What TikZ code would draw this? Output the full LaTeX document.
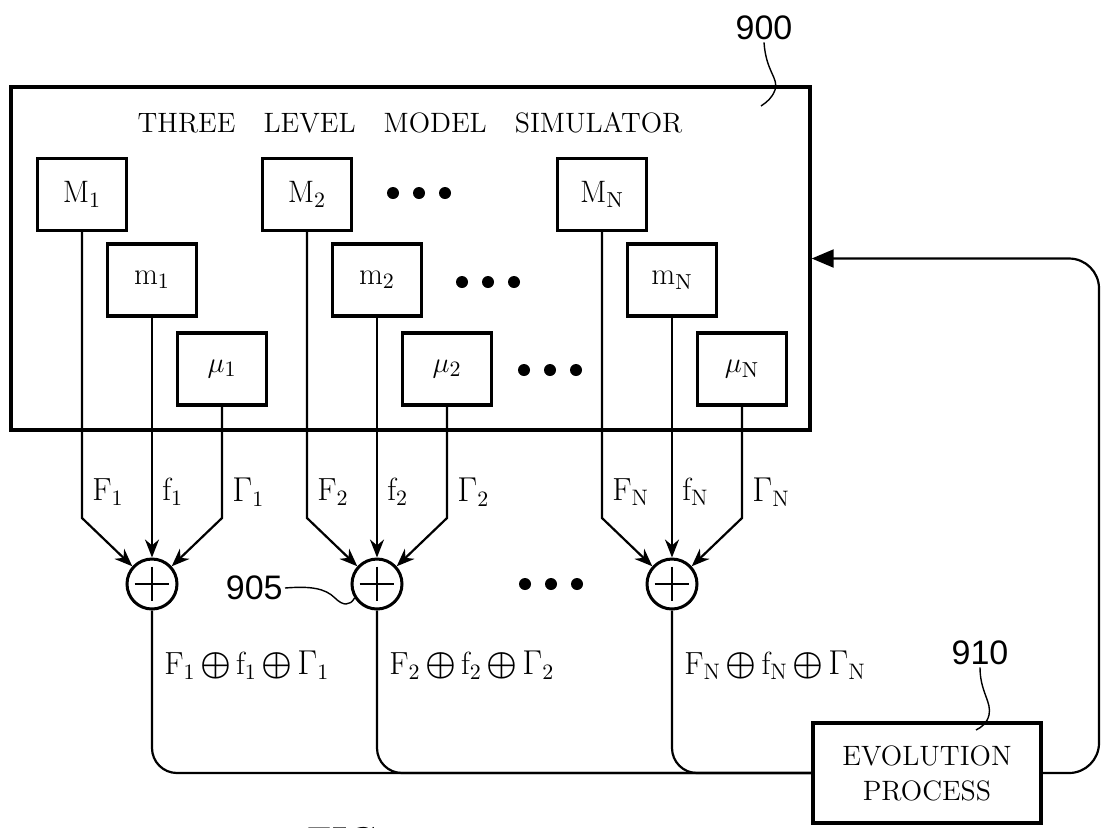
\documentclass[tikz,border=0pt]{standalone}
\usepackage{amsmath}
\usepackage{fontspec}
\setsansfont{Liberation Sans}
\usetikzlibrary{arrows.meta, positioning, calc}
\newcommand{\oplusb}{\mathord{\mkern2.5mu\boldsymbol{\oplus}\mkern2.5mu}}

\begin{document}
\begin{tikzpicture}[
  x=0.5pt, y=-0.5pt,
  font=\fontsize{14}{16}\selectfont,
  unit/.style={rectangle, draw=black, line width=1.7pt, minimum width=44.5pt,
               minimum height=36pt, inner sep=0pt, font=\fontsize{15.5}{17}\selectfont},
  sum/.style={circle, draw=black, line width=1.5pt, minimum size=25pt, inner sep=0pt,
              path picture={\draw[line width=1.3pt]
                ([yshift=-3.8pt]path picture bounding box.north) --
                ([yshift=3.8pt]path picture bounding box.south)
                ([xshift=3.8pt]path picture bounding box.west) --
                ([xshift=-3.8pt]path picture bounding box.east);}},
  lbl/.style={inner sep=0pt, font=\fontsize{16}{18}\selectfont},
  num/.style={inner sep=1pt, font=\sffamily\fontsize{17}{19}\selectfont},
  wire/.style={line width=1.1pt},
  arr/.style={-{Stealth[length=9pt,width=7pt]}, line width=1.1pt},
  fb/.style={-{Triangle[length=11pt,width=9pt]}, line width=1.1pt},
  lead/.style={line width=0.7pt},
]
\useasboundingbox (0,0) rectangle (1102,827);
\clip (0,0) rectangle (1102,827);
\node (sim) [draw=black, line width=1.7pt, minimum width=399.5pt,
             minimum height=171.5pt, inner sep=0pt] at (410.5,258.5) {};
\node (title) at (410,123) {THREE\quad LEVEL\quad MODEL\quad SIMULATOR};
\node (evo) [draw=black, line width=1.6pt, minimum width=114pt, minimum height=50pt,
             align=center, font=\fontsize{14}{17.5}\selectfont] at (927,773)
  {EVOLUTION\\PROCESS};
\coordinate (bend) at (0,518);
\coordinate (lab)  at (0,492);
\coordinate (slab) at (0,665);
% one column of boxes and its adder per model
\foreach \g/\x/\s in {1/82/1, 2/307/2, N/602/\mathrm{N}} {
  \node (M\g)   [unit] at (\x,194.5)   {$\mathrm{M}_{\s}$};
  \node (m\g)   [unit] at (\x+70,280)  {$\mathrm{m}_{\s}$};
  \node (mu\g)  [unit] at (\x+140,369) {$\mu_{\s}$};
  \node (sum\g) [sum]  at (\x+70,584)  {};
  \draw [arr] (M\g.south) -- (M\g.south |- bend) -- (sum\g.138);
  \draw [arr] (m\g.south) -- (sum\g.north);
  \draw [arr] (mu\g.south) -- (mu\g.south |- bend) -- (sum\g.42);
  \node (F\g) [lbl, right=5pt] at (M\g.south |- lab)  {$\mathrm{F}_{\s}$};
  \node (f\g) [lbl, right=5pt] at (m\g.south |- lab)  {$\mathrm{f}_{\s}$};
  \node (G\g) [lbl, right=5pt] at (mu\g.south |- lab) {$\Gamma_{\s}$};
  \node (s\g) [lbl, right=6pt] at (sum\g.south |- slab)
    {$\mathrm{F}_{\s}\oplusb\mathrm{f}_{\s}\oplusb\Gamma_{\s}$};
  \draw [wire, rounded corners=12.5pt] (sum\g.south) |- (evo.west);
}
% ellipsis dots
\foreach \y/\x in {193/393, 282/462, 370/524, 584/525}
  \foreach \i in {0,1,2}
    \fill (\x+26*\i,\y) circle[radius=3pt];
% loop back into the simulator
\coordinate (rail) at (1099,0);
\draw [fb, rounded corners=15pt] (evo.east) -| (rail |- sim.east) -- (sim.east);
% reference numerals
\node (n900) [num] at (764,28) {900};
\node (n905) [num, anchor=east] at (285,588) {905};
\node (n910) [num] at (980,653) {910};
\draw [lead] (n900.south) .. controls (766,72) and (779,78) .. (775,90)
  .. controls (772,98) and (767,102) .. (761,106);
\draw [lead] (n905.east) .. controls (310,586) and (325,588) .. (335,598)
  .. controls (343,606) and (350,606) .. (sum2.212);
\draw [lead] (n910.south) .. controls (980,692) and (992,702) .. (989,715)
  .. controls (987,723) and (982,727) .. (976,730);
\node (fig) [anchor=north west, inner sep=0pt,
             font=\bfseries\fontsize{18}{20}\selectfont\addfontfeatures{LetterSpace=20}]
  at (307,827) {FIG.\hspace{53pt}9};
\end{tikzpicture}
\end{document}
